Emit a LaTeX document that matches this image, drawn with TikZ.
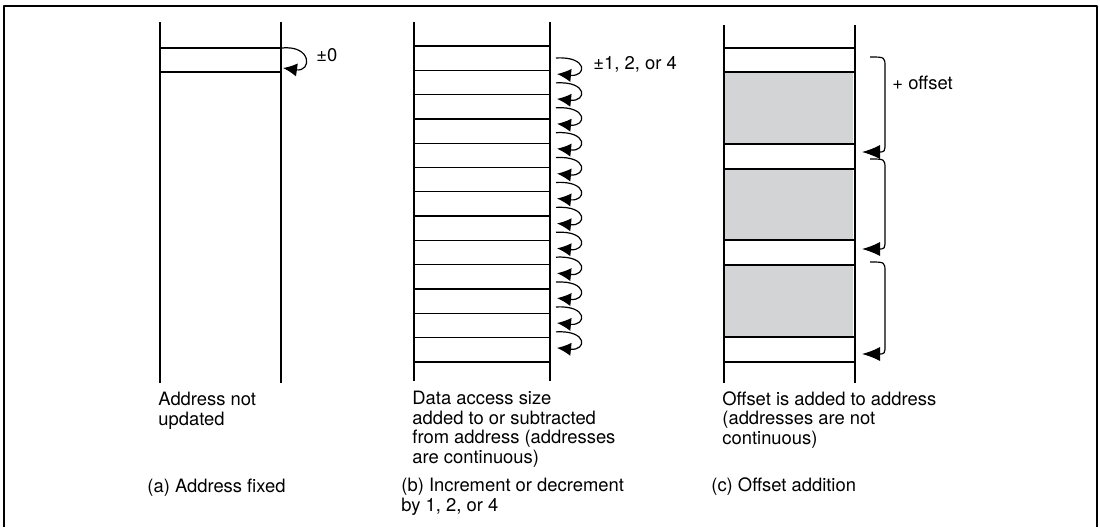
\documentclass[tikz,border=0pt]{standalone}
\usepackage{fontspec}
\setmainfont{TeX Gyre Heros}
\usetikzlibrary{arrows.meta}
\definecolor{boxgray}{RGB}{211,212,214}

\begin{document}
\begin{tikzpicture}[x=0.5pt, y=-0.5pt, font=\fontsize{9.2}{9.75}\selectfont, line join=round, >={Latex[length=7pt,width=6.6pt]},
		rail/.style={line width=1pt},
		cell/.style={line width=0.65pt},
		loop/.style={->, line width=0.6pt},
		note/.style={anchor=north west, align=left, inner sep=0pt},
		caption/.style={anchor=north west, align=left, inner sep=0pt}]
	\useasboundingbox (0,0) rectangle (1100,527);
	\draw[line width=1.2pt] (4,527) -- (4,6) -- (1097,6) -- (1097,527);

	\draw[rail] (160,22) -- (160,383);
	\draw[rail] (281,22) -- (281,383);
	\foreach \y in {48,72} {
		\draw[cell] (160,\y) -- (281,\y);
	}
	\coordinate (a from) at (282,48);
	\coordinate (a to) at (283,68);
	\draw[loop] (a from) .. controls (312,45) and (312,72) .. (a to);
	\node[anchor=base west, inner sep=0pt] (a step) at (316,61) {±0};

	\draw[rail] (414,22) -- (414,381);
	\draw[rail] (550,22) -- (550,381);
	\foreach \i in {0,...,13} {
		\draw[cell] (414,{46+24.3*\i}) -- (550,{46+24.3*\i});
	}
	\foreach \i in {0,...,11} {
		\coordinate (b from \i) at (556,{58+24.9*\i});
		\coordinate (b to \i) at (557,{74+24.9*\i});
		\draw[loop] (b from \i) .. controls +(32,-2) and +(30,3) .. (b to \i);
	}
	\node[anchor=base west, inner sep=0pt] (b step) at (593,69) {±1, 2, or 4};

	\foreach \t/\b in {73/143, 170/240, 266/336} {
		\fill[boxgray] (725,\t) rectangle (853,\b);
	}
	\draw[rail] (724,25) -- (724,383);
	\draw[rail] (855,25) -- (855,383);
	\foreach \y in {48,72,144,169,240,265,337,362} {
		\draw[cell] (724,\y) -- (855,\y);
	}
	\foreach \t/\b [count=\k] in {57/152, 159/249, 262/354} {
		\coordinate (c from \k) at (870,\t);
		\coordinate (c to \k) at (862,\b);
		\draw[loop, >={Latex[length=9pt,width=7pt]}] (c from \k) .. controls (885,\t) .. (885,\t+10) -- (885,\b-10) .. controls (885,\b) .. (878,\b) -- (c to \k);
	}
	\node[anchor=base west, inner sep=0pt] (c step) at (892,89) {+ offset};

	\node[note] (a note) at (158,392) {Address not\\updated};
	\node[note] (b note) at (412,391) {Data access size\\added to or subtracted\\from address (addresses\\are continuous)};
	\node[note] (c note) at (722,391) {Offset is added to address\\(addresses are not\\continuous)};

	\node[anchor=base west, inner sep=0pt] (a caption) at (147,492) {(a) Address fixed};
	\node[caption] (b caption) at (401,478) {(b) Increment or decrement\\by 1, 2, or 4};
	\node[anchor=base west, inner sep=0pt] (c caption) at (711,491) {(c) Offset addition};
\end{tikzpicture}
\end{document}
